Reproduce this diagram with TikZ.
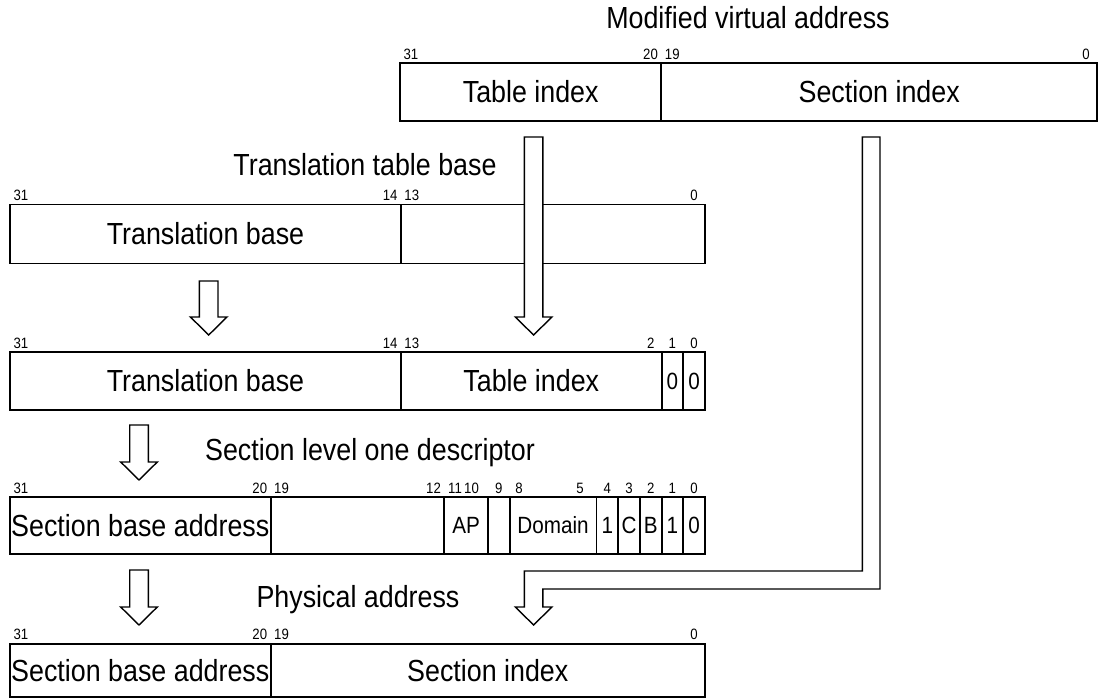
\documentclass[tikz,border=0pt]{standalone}
\usepackage{fontspec}
\setmainfont[FakeStretch=0.88]{Liberation Sans}
\newcommand\biglbl{\fontsize{30.5}{33}\selectfont}
\newcommand\midlbl{\fontsize{23.5}{26}\selectfont}
\newcommand\bitlbl{\fontsize{15}{17}\selectfont}
\newcommand\blockarr[4]{% cx, ytop, yhead, ytip
  \draw[barrow] ({#1-9.3},#2) -- ({#1+9.3},#2) -- ({#1+9.3},#3) -- ({#1+18.3},#3)
     -- (#1,#4) -- ({#1-18.3},#3) -- ({#1-9.3},#3) -- cycle;}
\tikzset{
  cell/.style={draw, line width=1.9pt, inner sep=0pt, font=\biglbl, anchor=center},
  small/.style={font=\midlbl},
  bit/.style={font=\bitlbl, inner sep=0pt, anchor=center},
  ttl/.style={font=\biglbl, inner sep=0pt, anchor=center},
  barrow/.style={draw, line width=1.4pt, fill=white, line join=miter},
}
\begin{document}
\begin{tikzpicture}[x=1pt,y=-1pt]
\useasboundingbox (0,0) rectangle (1101,698);
% titles
\node[ttl] (t1) at (748,18) {Modified virtual address};
\node[ttl] (t2) at (365,165) {Translation table base};
\node[ttl] (t3) at (370,453) {Section level one descriptor};
\node[ttl] (t4) at (358,600) {Physical address};
% register 1 (modified virtual address)
\node[cell, minimum width=261.4pt, minimum height=57.7pt] (r1a) at (530.7,91.9) {Table index};
\node[cell, minimum width=435.6pt, minimum height=57.7pt] (r1b) at (879.2,91.9) {Section index};
\foreach \x/\t [count=\i] in {410.9/31, 650.5/20, 672.3/19, 1086.1/0}
  \node[bit] (b1-\i) at (\x,54) {\t};
% register 2 (translation table base)
\node[cell, minimum width=391pt, minimum height=59pt] (r2a) at (205.5,234) {Translation base};
\node[cell, minimum width=304pt, minimum height=59pt] (r2b) at (553,234) {};
\foreach \x/\t [count=\i] in {20.9/31, 390.1/14, 411.8/13, 694.1/0}
  \node[bit] (b2-\i) at (\x,195) {\t};
% register 3
\node[cell, minimum width=391pt, minimum height=58pt] (r3a) at (205.5,381) {Translation base};
\node[cell, minimum width=260.6pt, minimum height=58pt] (r3b) at (531.3,381) {Table index};
\node[cell, small, minimum width=21.72pt, minimum height=58pt] (r3c) at (672.45,381) {0};
\node[cell, small, minimum width=21.72pt, minimum height=58pt] (r3d) at (694.17,381) {0};
\foreach \x/\t [count=\i] in {20.9/31, 390.1/14, 411.8/13, 650.7/2, 672.4/1, 694.1/0}
  \node[bit] (b3-\i) at (\x,343) {\t};
% register 4 (descriptor)
\node[cell, minimum width=260.6pt, minimum height=57pt] (r4a) at (140.3,525.5) {Section base address};
\node[cell, minimum width=173.8pt, minimum height=57pt] (r4b) at (357.5,525.5) {};
\node[cell, small, minimum width=43.4pt, minimum height=57pt] (r4c) at (466.1,525.5) {AP};
\node[cell, small, minimum width=21.7pt, minimum height=57pt] (r4d) at (498.7,525.5) {};
\node[cell, small, minimum width=86.9pt, minimum height=57pt] (r4e) at (553,525.5) {Domain};
\node[cell, small, minimum width=21.7pt, minimum height=57pt] (r4f) at (607.3,525.5) {1};
\node[cell, small, minimum width=21.7pt, minimum height=57pt] (r4g) at (629,525.5) {C};
\node[cell, small, minimum width=21.7pt, minimum height=57pt] (r4h) at (650.7,525.5) {B};
\node[cell, small, minimum width=21.7pt, minimum height=57pt] (r4i) at (672.4,525.5) {1};
\node[cell, small, minimum width=21.7pt, minimum height=57pt] (r4j) at (694.1,525.5) {0};
\foreach \x/\t [count=\i] in {20.9/31, 259.8/20, 281.5/19, 433.5/12, 455/11, 471.5/10, 498.7/9, 519/8, 580/5, 607.3/4, 629/3, 650.7/2, 672.4/1, 694.1/0}
  \node[bit] (b4-\i) at (\x,488) {\t};
% register 5 (physical address)
\node[cell, minimum width=260.6pt, minimum height=53pt] (r5a) at (140.3,670.5) {Section base address};
\node[cell, minimum width=434.4pt, minimum height=53pt] (r5b) at (487.8,670.5) {Section index};
\foreach \x/\t [count=\i] in {20.9/31, 259.8/20, 281.5/19, 694.1/0}
  \node[bit] (b5-\i) at (\x,634) {\t};
% block arrows
\blockarr{208.7}{281}{317}{335}
\blockarr{533.6}{137}{317}{335}
\blockarr{139}{425}{462}{480}
\blockarr{139}{570}{607}{625}
\draw[barrow] (862.3,137) -- (880,137) -- (880,589) -- (542.9,589) -- (542.9,607)
  -- (551.9,607) -- (533.6,625) -- (515.3,607) -- (524.3,607) -- (524.3,571)
  -- (862.3,571) -- cycle;
\end{tikzpicture}
\end{document}
